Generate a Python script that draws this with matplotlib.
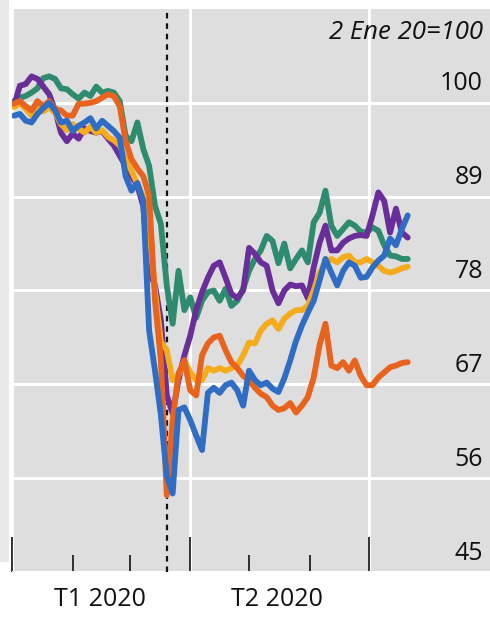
import matplotlib
matplotlib.use("Agg")
import matplotlib.pyplot as plt
import matplotlib.dates as mdates
import matplotlib.transforms as mtransforms
from matplotlib.patches import Rectangle
import pandas as pd

plt.rcParams['font.family'] = ['Open Sans', 'DejaVu Sans']

dates = pd.date_range('2020-01-02', periods=68, freq='3D')

green = [100.2, 100.6, 100.8, 101.2, 101.7, 102.9, 103.1, 102.8, 101.7, 101.6,
         101.0, 100.5, 101.2, 100.8, 101.9, 101.2, 101.4, 101.2, 100.2, 96.1,
         95.5, 97.7, 94.6, 92.6, 87.9, 85.8, 78.6, 74.1, 80.3, 75.7,
         77.2, 74.8, 76.8, 77.8, 78.0, 76.8, 78.2, 76.2, 76.8, 78.2,
         80.3, 81.7, 82.7, 84.4, 83.8, 81.2, 83.5, 80.6, 81.7, 82.7,
         81.3, 86.0, 87.1, 89.7, 85.6, 84.4, 85.2, 86.0, 85.6, 84.9,
         84.8, 85.4, 85.0, 83.3, 82.1, 82.0, 81.7, 81.7]

purple = [99.6, 102.0, 102.2, 103.1, 102.8, 101.9, 101.0, 99.1, 96.5, 95.5,
          96.4, 95.8, 97.0, 96.7, 96.5, 96.7, 95.8, 95.0, 93.8, 92.6,
          91.4, 90.3, 87.9, 80.3, 78.6, 74.5, 65.7, 63.6, 67.5, 70.4,
          72.7, 75.7, 77.8, 79.5, 80.9, 81.3, 79.5, 77.6, 77.1, 78.0,
          83.0, 82.3, 81.3, 80.9, 78.0, 76.5, 78.0, 78.7, 78.5, 78.6,
          77.1, 80.7, 83.6, 85.6, 82.7, 82.7, 83.6, 84.1, 84.4, 84.5,
          84.4, 86.8, 89.5, 88.5, 84.8, 87.6, 84.8, 84.2]

orange = [99.9, 100.2, 99.6, 99.1, 100.2, 99.6, 100.2, 99.3, 99.1, 98.5,
          98.5, 99.9, 99.9, 100.0, 100.2, 100.6, 101.0, 100.8, 99.6, 95.5,
          93.4, 92.3, 91.4, 89.1, 76.8, 69.8, 54.0, 62.8, 68.3, 69.8,
          66.3, 65.7, 70.4, 71.8, 72.5, 72.7, 71.0, 69.6, 68.9, 68.0,
          67.5, 66.6, 65.9, 65.5, 64.5, 64.0, 64.2, 64.8, 63.7, 64.5,
          65.5, 67.8, 71.6, 74.1, 69.2, 68.9, 69.6, 68.6, 69.8, 68.0,
          66.9, 66.9, 67.8, 68.4, 69.0, 69.2, 69.5, 69.6]

yellow = [99.5, 100.0, 99.3, 98.5, 99.5, 99.0, 99.5, 98.8, 97.5, 96.8,
          97.5, 97.0, 96.5, 97.2, 96.5, 96.8, 96.0, 95.6, 95.0, 93.5,
          92.0, 90.5, 89.0, 85.0, 78.0, 72.0, 71.0, 67.5, 68.0, 69.8,
          68.4, 67.5, 67.5, 68.9, 68.6, 68.9, 68.6, 68.9, 69.2, 70.4,
          71.9, 71.8, 73.3, 74.1, 74.5, 73.5, 74.7, 75.3, 75.7, 75.7,
          76.2, 78.0, 80.1, 81.3, 81.7, 81.3, 81.9, 82.1, 81.3, 81.3,
          81.7, 81.3, 80.9, 80.3, 80.1, 80.3, 80.6, 80.8]

blue = [98.5, 98.7, 97.9, 97.7, 98.7, 99.4, 100.0, 99.1, 97.7, 97.9,
        96.7, 97.3, 97.7, 98.2, 97.0, 97.9, 97.3, 96.7, 95.9, 91.4,
        89.7, 90.6, 88.5, 73.3, 68.6, 63.4, 56.3, 54.2, 64.0, 64.3,
        62.8, 61.0, 59.3, 66.0, 66.6, 66.0, 66.9, 67.2, 66.3, 64.5,
        68.6, 67.5, 66.9, 67.2, 66.5, 66.1, 67.7, 69.8, 72.1, 73.9,
        75.4, 76.8, 79.2, 81.7, 80.1, 78.6, 80.3, 81.3, 80.9, 79.5,
        79.6, 80.7, 81.5, 82.1, 84.1, 83.3, 85.2, 86.8]

series = [("green", green, "#2e8b6e"), ("purple", purple, "#6a2e9a"),
          ("yellow", yellow, "#f4ac1c"), ("orange", orange, "#e8641e"),
          ("blue", blue, "#2f6cc4")]

ytick_vals = [45, 56, 67, 78, 89, 100]
quarter_labels = ["T1 2020", "T2 2020"]
quarter_centers = ['2020-02-15', '2020-05-15']
event_date = pd.Timestamp('2020-03-20')
note = "2 Ene 20=100"

W, H = 490, 619
fig = plt.figure(figsize=(W / 100, H / 100), dpi=100, facecolor='white')
fig.patches.append(Rectangle((0, 1 - 562 / H), 9 / W, 562 / H, transform=fig.transFigure,
                             facecolor='#e9e9e9', edgecolor='none', zorder=0))
ax = fig.add_axes([12 / W, 1 - 572 / H, 478 / W, (572 - 9) / H])
ax.set_facecolor('#dedede')
for s in ax.spines.values():
    s.set_visible(False)

ax.set_ylim(45, 111)
ax.set_xlim(pd.Timestamp('2020-01-01'), pd.Timestamp('2020-09-01'))

# grid
ax.set_yticks(ytick_vals)
ax.yaxis.set_tick_params(length=0, labelleft=False)
ax.grid(axis='y', color='white', lw=2.2, zorder=1)
ax.xaxis.set_major_locator(mdates.MonthLocator(bymonth=[1, 4, 7]))
ax.xaxis.set_minor_locator(mdates.MonthLocator(bymonth=[2, 3, 5, 6]))
ax.grid(axis='x', which='major', color='white', lw=2.2, zorder=1)
ax.tick_params(axis='x', which='major', direction='in', length=25, width=1.3,
               color='#222222', labelbottom=False)
ax.tick_params(axis='x', which='minor', direction='in', length=12, width=1.3,
               color='#222222')
ax.set_axisbelow(True)

ax.axvline(event_date, color='#111111', lw=1.6, ls=(0, (2.5, 2.2)), zorder=2)

for name, vals, col in series:
    ax.plot(dates, vals, color=col, lw=4.2, solid_joinstyle='round',
            solid_capstyle='round', zorder=3)

# y labels inside, right
blend = mtransforms.blended_transform_factory(ax.transAxes, ax.transData)
for v in ytick_vals:
    ax.annotate(str(v), xy=(1, v), xycoords=blend, xytext=(-5, 9),
                textcoords='offset points', ha='right', va='baseline',
                fontsize=18, color='#111111', zorder=4)

ax.annotate(note, xy=(1, 1), xycoords='axes fraction',
            xytext=(-5, -8), textcoords='offset points',
            ha='right', va='top', fontsize=18.5,
            style='italic', color='#111111', zorder=4)

blendx = mtransforms.blended_transform_factory(ax.transData, ax.transAxes)
for lab, c in zip(quarter_labels, quarter_centers):
    ax.annotate(lab, xy=(mdates.datestr2num(c), 0), xycoords=blendx, xytext=(0, -20),
                textcoords='offset points', ha='center', va='center',
                fontsize=18, color='#111111', annotation_clip=False)

fig.savefig('out.png', dpi=100, facecolor='white')
